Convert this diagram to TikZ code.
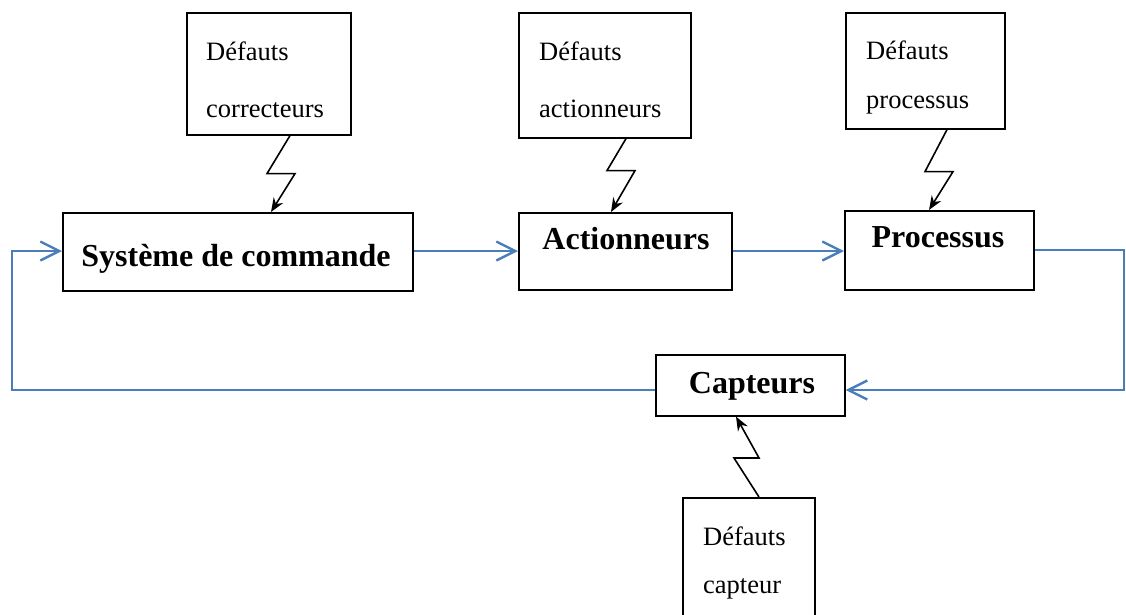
\documentclass[tikz,border=0pt]{standalone}
\usepackage{fontspec}
\setmainfont{Liberation Serif}
\usetikzlibrary{arrows.meta}
\definecolor{flow}{RGB}{74,126,187}
\tikzset{
  box/.style={draw=black, line width=1.6pt, fill=white, inner sep=0pt, anchor=north west},
  deftext/.style={anchor=base west, inner sep=0pt, font=\fontsize{26.5}{30}\selectfont},
  blocktext/.style={anchor=base, inner sep=0pt, font=\fontsize{32}{36}\selectfont\bfseries},
  flowline/.style={draw=flow, line width=2.2pt, -{Straight Barb[length=19pt,width=19pt,line width=2.4pt]}},
  bolt/.style={draw=black, line width=1.6pt, -{Stealth[length=14pt,width=11pt]}}
}
\begin{document}
\begin{tikzpicture}[x=1pt,y=-1pt]
\useasboundingbox (0,0) rectangle (1126,614);

% main chain
\node[box, minimum width=350, minimum height=78] (sys) at (62,212) {};
\node[blocktext] (tsys) at (236,266) {Système de commande};
\node[box, minimum width=213, minimum height=77] (act) at (518,212) {};
\node[blocktext] (tact) at (626,249) {Actionneurs};
\node[box, minimum width=189, minimum height=79] (proc) at (844,210) {};
\node[blocktext] (tproc) at (938,247) {Processus};
\node[box, minimum width=189, minimum height=61] (capt) at (655,354) {};
\node[blocktext] (tcapt) at (752,393) {Capteurs};

% fault sources
\node[box, minimum width=164, minimum height=122] (dcor) at (186,12) {};
\node[deftext] (dcor1) at (206,60) {Défauts};
\node[deftext] (dcor2) at (206,117) {correcteurs};
\node[box, minimum width=172, minimum height=125] (dact) at (518,12) {};
\node[deftext] (dact1) at (539,60) {Défauts};
\node[deftext] (dact2) at (539,117) {actionneurs};
\node[box, minimum width=159, minimum height=116] (dproc) at (845,12) {};
\node[deftext] (dproc1) at (866,59) {Défauts};
\node[deftext] (dproc2) at (866,108) {processus};
\node[box, minimum width=132, minimum height=135] (dcapt) at (682,497) {};
\node[deftext] (dcapt1) at (703,545) {Défauts};
\node[deftext] (dcapt2) at (703,593) {capteur};

% signal flow
\draw[flowline] (sys.east |- 0,251) -- (act.west |- 0,251);
\draw[flowline] (act.east |- 0,251) -- (proc.west |- 0,251);
\draw[flowline] (proc.east |- 0,250) -- (1124,250) -- (1124,390) -- (capt.east |- 0,390);
\draw[flowline] (capt.west |- 0,390) -- (12,390) -- (12,251) -- (sys.west |- 0,251);

% fault injections
\draw[bolt] ([xshift=104pt]dcor.south west) -- ++(-23,38) -- ++(28,0) -- ([xshift=209pt]sys.north west);
\draw[bolt] ([xshift=108pt]dact.south west) -- ++(-19,32) -- ++(28,0) -- ([xshift=93pt]act.north west);
\draw[bolt] ([xshift=102pt]dproc.south west) -- ++(-22,42) -- ++(28,0) -- ([xshift=85pt]proc.north west);
\draw[bolt] ([xshift=77pt]dcapt.north west) -- ++(-25,-39) -- ++(25,0) -- ([xshift=81pt]capt.south west);
\end{tikzpicture}
\end{document}
